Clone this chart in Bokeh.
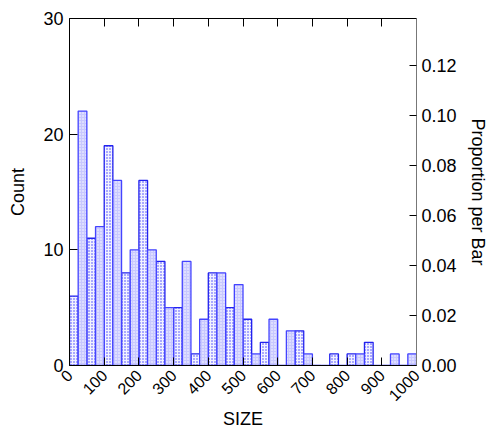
import numpy as np
from bokeh.plotting import figure
from bokeh.models import LinearAxis, Range1d, FixedTicker, ColumnDataSource, NumeralTickFormatter
from bokeh.embed import file_html
from bokeh.resources import INLINE

# Histogram of SIZE: 40 bins of width 25 from 0 to 1000
bin_edges = [0, 25, 50, 75, 100, 125, 150, 175, 200, 225, 250, 275, 300, 325, 350,
             375, 400, 425, 450, 475, 500, 525, 550, 575, 600, 625, 650, 675, 700,
             725, 750, 775, 800, 825, 850, 875, 900, 925, 950, 975, 1000]
counts = [6, 22, 11, 12, 19, 16, 8, 10, 16, 10,
          9, 5, 5, 9, 1, 4, 8, 8, 5, 7,
          4, 1, 2, 4, 0, 3, 3, 1, 0, 0,
          1, 0, 1, 1, 2, 0, 0, 1, 0, 1]
x_ticks = [0, 100, 200, 300, 400, 500, 600, 700, 800, 900, 1000]
count_ticks = [0, 10, 20, 30]
prop_ticks = [0.0, 0.02, 0.04, 0.06, 0.08, 0.10, 0.12]

total = sum(counts)
FONT = "Liberation Sans"

p = figure(width=490, height=434, output_backend="svg", toolbar_location=None,
           x_range=Range1d(0, 1000), y_range=Range1d(0, 30))
p.min_border_left = 69
p.min_border_right = 74
p.min_border_top = 18
p.min_border_bottom = 69
p.outline_line_color = None
p.xgrid.visible = False
p.ygrid.visible = False
p.background_fill_color = "white"
p.border_fill_color = "white"

lefts = np.array(bin_edges[:-1])
rights = np.array(bin_edges[1:])
tops = np.array(counts)
idx = np.arange(len(counts))
ev = idx % 2 == 0
od = ~ev

src_e = ColumnDataSource(dict(l=lefts[ev], r=rights[ev], t=tops[ev]))
src_o = ColumnDataSource(dict(l=lefts[od], r=rights[od], t=tops[od]))
p.quad(left="l", right="r", top="t", bottom=0, source=src_e,
       fill_color="#f2f2ff", hatch_pattern="dot", hatch_color="#3a3aff",
       hatch_scale=3, hatch_weight=1.0,
       line_color="#2222ee", line_width=1.3)
p.quad(left="l", right="r", top="t", bottom=0, source=src_o,
       fill_color="#c8c8ff", hatch_pattern="dot", hatch_color="white",
       hatch_scale=3, hatch_weight=1.0,
       line_color="#4444ff", line_width=1.3)

def style(ax, size="18px"):
    ax.major_label_text_font = FONT
    ax.major_label_text_font_size = size
    ax.major_label_text_color = "black"
    ax.axis_label_text_font = FONT
    ax.axis_label_text_font_size = "18px"
    ax.axis_label_text_font_style = "normal"
    ax.axis_label_text_color = "black"
    ax.major_tick_out = 0
    ax.major_tick_in = 8
    ax.minor_tick_in = 0
    ax.minor_tick_out = 0
    ax.major_tick_line_color = "black"
    ax.axis_line_color = "black"

# bottom axis
xa = p.xaxis[0]
style(xa, "16px")
xa.ticker = FixedTicker(ticks=x_ticks)
xa.major_label_orientation = np.pi / 4
xa.axis_label = "SIZE"
xa.major_label_standoff = 7
xa.axis_label_standoff = 0

# left axis
ya = p.yaxis[0]
style(ya)
ya.ticker = FixedTicker(ticks=count_ticks)
ya.axis_label = "Count"
ya.major_label_standoff = 6
ya.axis_label_standoff = 12

# top frame axis with inward ticks
top_ax = LinearAxis(ticker=FixedTicker(ticks=x_ticks))
style(top_ax)
top_ax.major_label_text_font_size = "0px"
top_ax.major_label_text_color = None
p.add_layout(top_ax, "above")

# right proportion axis
p.extra_y_ranges = {"prop": Range1d(0, 30 / total)}
ra = LinearAxis(y_range_name="prop", ticker=FixedTicker(ticks=prop_ticks))
style(ra)
ra.formatter = NumeralTickFormatter(format="0.00")
ra.axis_line_color = "#777777"
ra.major_tick_in = 7
ra.axis_label = "Proportion per Bar"
ra.major_label_standoff = 5
ra.axis_label_standoff = 8
p.add_layout(ra, "right")

open("out.html", "w").write(file_html(p, INLINE))
